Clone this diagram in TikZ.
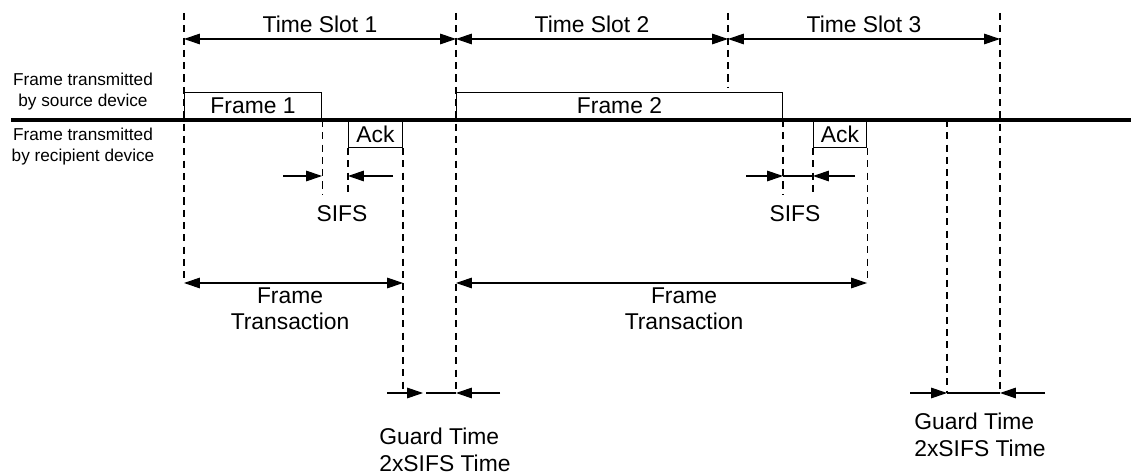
\documentclass[tikz,border=0pt]{standalone}
\usepackage{fontspec}
\setmainfont{Liberation Sans}
\usetikzlibrary{arrows.meta, positioning, calc}

\begin{document}
\begin{tikzpicture}[
        x=0.02cm, y=-0.02cm,
        lbl/.style={font=\fontsize{13}{15}\selectfont, inner sep=0pt, align=center},
        side/.style={font=\fontsize{9.8}{11.9}\selectfont, inner sep=0pt, align=center},
        fbox/.style={draw, line width=0.6pt, inner sep=0pt, minimum height=0.54cm, font=\fontsize{13}{15}\selectfont},
        guide/.style={dash pattern=on 4pt off 3pt, line width=0.6pt},
        dim/.style={{Triangle[length=9pt,width=6pt]}-{Triangle[length=9pt,width=6pt]}, line width=0.6pt},
        tip/.style={-{Triangle[length=9pt,width=6pt]}, line width=0.6pt},
        plain/.style={line width=0.6pt},
        medium/.style={line width=1.8pt}
    ]
    \useasboundingbox (0,0) rectangle (1131,475);

    % Rows and slot marks
    \coordinate (slotrow) at (0,39);
    \coordinate (sifsrow) at (0,176);
    \coordinate (sifsend) at (0,195);
    \coordinate (ftrow) at (0,283);
    \coordinate (gtrow) at (0,393);
    \coordinate (s0) at (184,13);
    \coordinate (s1) at (456,13);
    \coordinate (s2) at (728,13);
    \coordinate (s3) at (1000,13);
    \coordinate (g2) at (947,120);
    \coordinate (axisl) at (11,120);
    \coordinate (axisr) at (1131,120);

    % Frames
    \node[fbox, anchor=south west, minimum width=2.74cm] (frame1) at (184,120) {Frame 1};
    \node[fbox, anchor=north west, minimum width=1.08cm] (ack1) at (348,120) {Ack};
    \node[fbox, anchor=south west, minimum width=6.52cm] (frame2) at (456,120) {Frame 2};
    \node[fbox, anchor=north west, minimum width=1.06cm] (ack2) at (813,120) {Ack};
    \draw[medium] (axisl) -- (axisr);

    % Side labels
    \node[side] (src) at (83,92) {Frame transmitted\\by source device};
    \node[side] (rcp) at (83,147) {Frame transmitted\\by recipient device};

    % Guides
    \draw[guide] (s0) -- (s0 |- ftrow);
    \draw[guide] (s1) -- (s1 |- gtrow);
    \draw[guide] (s2) -- ($(s2 |- frame2.north)+(0,-5)$);
    \draw[guide] (s3) -- (s3 |- gtrow);
    \draw[guide] (frame1.south east) -- (frame1.south east |- sifsend);
    \draw[guide] (ack1.south west) -- (ack1.south west |- sifsend);
    \draw[guide, line width=1pt] (ack1.south east) -- (ack1.south east |- gtrow);
    \draw[guide] (frame2.south east) -- (frame2.south east |- sifsend);
    \draw[guide] (ack2.south west) -- (ack2.south west |- sifsend);
    \draw[guide] (ack2.south east) -- (ack2.south east |- ftrow);
    \draw[guide] (g2) -- (g2 |- gtrow);

    % Time slots
    \draw[dim] (s0 |- slotrow) -- node[lbl, above=0.12cm] (ts1) {Time Slot 1} (s1 |- slotrow);
    \draw[dim] (s1 |- slotrow) -- node[lbl, above=0.12cm] (ts2) {Time Slot 2} (s2 |- slotrow);
    \draw[dim] (s2 |- slotrow) -- node[lbl, above=0.12cm] (ts3) {Time Slot 3} (s3 |- slotrow);

    % SIFS
    \coordinate (sa) at (283,176);
    \coordinate (sb) at (393,176);
    \coordinate (sc) at (746,176);
    \coordinate (sd) at (855,176);
    \draw[tip] (sa) -- (frame1.south east |- sifsrow);
    \draw[tip] (sb) -- (ack1.south west |- sifsrow);
    \draw[tip] (sc) -- (frame2.south east |- sifsrow);
    \draw[plain] (frame2.south east |- sifsrow) -- (ack2.south west |- sifsrow);
    \draw[tip] (sd) -- (ack2.south west |- sifsrow);
    \node[lbl] (sifs1) at (342,214) {SIFS};
    \node[lbl] (sifs2) at (795,214) {SIFS};

    % Frame transactions
    \draw[dim] (s0 |- ftrow) -- (ack1.south east |- ftrow);
    \draw[dim] (s1 |- ftrow) -- (ack2.south east |- ftrow);
    \node[lbl] (ft1) at (290,309) {Frame\\Transaction};
    \node[lbl] (ft2) at (684,309) {Frame\\Transaction};

    % Guard times
    \coordinate (ga) at (387,393);
    \coordinate (gb) at (423,393);
    \coordinate (gc) at (426,393);
    \coordinate (gd) at (500,393);
    \coordinate (ge) at (910,393);
    \coordinate (gf) at (1045,393);
    \draw[tip] (ga) -- (gb);
    \draw[plain] (gc) -- (s1 |- gtrow);
    \draw[tip] (gd) -- (s1 |- gtrow);
    \draw[tip] (ge) -- (g2 |- gtrow);
    \draw[plain] (g2 |- gtrow) -- (s3 |- gtrow);
    \draw[tip] (gf) -- (s3 |- gtrow);
    \node[lbl, align=left, anchor=west] (gt1) at (379,450) {Guard Time\\2xSIFS Time};
    \node[lbl, align=left, anchor=west] (gt2) at (914,435) {Guard Time\\2xSIFS Time};

\end{tikzpicture}
\end{document}
